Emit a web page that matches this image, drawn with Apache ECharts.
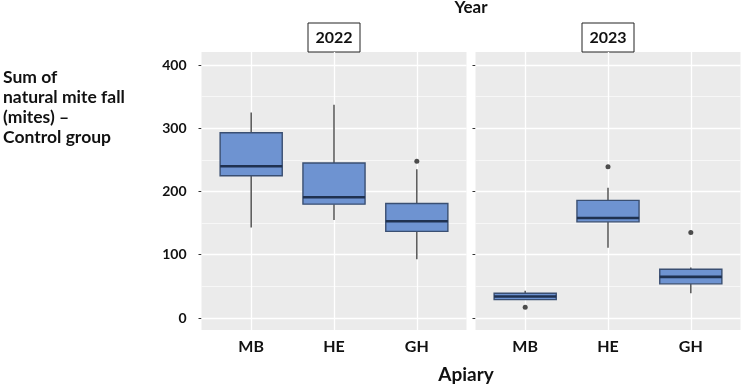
<!DOCTYPE html>
<html>
<head>
<meta charset="utf-8">
<script src="https://cdn.jsdelivr.net/npm/echarts@6/dist/echarts.min.js"></script>
<style>
  html, body { margin: 0; padding: 0; background: #fff; }
  #chart { width: 742px; height: 387px; }
</style>
</head>
<body>
<div id="chart"></div>
<script>
const categories = ['MB', 'HE', 'GH']
const years = ['2022', '2023']
// [min, Q1, median, Q3, max] for each apiary
const box2022 = [[143, 225, 240, 293, 325], [155, 180, 191, 245, 337], [93, 137, 153, 181, 235]]
const box2023 = [[29, 29, 34, 39, 43], [111, 152, 158, 186, 206], [39, 54, 65, 77, 80]]
const outliers2022 = [['GH', 248]]
const outliers2023 = [['MB', 17], ['HE', 239], ['GH', 135]]
const yTicks = [0, 100, 200, 300, 400]
const yMinor = [50, 150, 250, 350]

const boxes = [box2022, box2023]
const outliers = [outliers2022, outliers2023]

const font = 'Lato, "Open Sans", sans-serif'
const panelTop = 52
const panelH = 278
const panelW = 265
const panelLefts = [201.5, 475.5]
const unit = panelW / 3.2
const yMin = -19
const yMax = 420.6

function renderBox(params, api) {
  const x = api.value(0)
  const lo = api.coord([x, api.value(1)])
  const q1 = api.coord([x, api.value(2)])
  const med = api.coord([x, api.value(3)])
  const q3 = api.coord([x, api.value(4)])
  const hi = api.coord([x, api.value(5)])
  const half = api.size([1, 0])[0] * 0.375
  const cx = lo[0]
  return {
    type: 'group',
    children: [
      { type: 'line', shape: { x1: cx, y1: hi[1], x2: cx, y2: q3[1] }, style: { stroke: '#555', lineWidth: 1.5 } },
      { type: 'line', shape: { x1: cx, y1: q1[1], x2: cx, y2: lo[1] }, style: { stroke: '#555', lineWidth: 1.5 } },
      {
        type: 'rect',
        shape: { x: cx - half, y: q3[1], width: half * 2, height: q1[1] - q3[1] },
        style: { fill: '#6E93D1', stroke: '#3A4F72', lineWidth: 1.4 }
      },
      { type: 'line', shape: { x1: cx - half, y1: med[1], x2: cx + half, y2: med[1] }, style: { stroke: '#1F3150', lineWidth: 2.6 } }
    ]
  }
}

const grid = []
const xAxis = []
const yAxis = []
const series = []
const graphic = []

years.forEach((year, i) => {
  const left = panelLefts[i]
  // panel background
  grid.push({ left: left, top: panelTop, width: panelW, height: panelH, show: true, backgroundColor: '#EBEBEB', borderWidth: 0 })
  // data area (ggplot style discrete expansion)
  grid.push({ left: left + 0.6 * unit, top: panelTop, width: 2 * unit, height: panelH })

  xAxis.push({ gridIndex: 2 * i, type: 'value', min: 0, max: 1, show: false })
  yAxis.push({
    gridIndex: 2 * i,
    type: 'value',
    min: yMin,
    max: yMax,
    axisLine: { show: false },
    axisTick: { show: true, customValues: yTicks, length: 3, lineStyle: { color: '#333' } },
    axisLabel: {
      show: i === 0,
      customValues: yTicks,
      margin: 15,
      color: '#111',
      fontSize: 14,
      fontWeight: 'bold',
      fontFamily: font
    },
    splitLine: { show: false }
  })

  xAxis.push({
    gridIndex: 2 * i + 1,
    type: 'category',
    data: categories,
    boundaryGap: false,
    axisLine: { show: false },
    axisTick: { show: false },
    axisLabel: { interval: 0, margin: 9, color: '#111', fontSize: 16, fontWeight: 'bold', fontFamily: font },
    splitLine: { show: true, interval: 0, lineStyle: { color: '#fff', width: 1.3 } }
  })
  yAxis.push({ gridIndex: 2 * i + 1, type: 'value', min: yMin, max: yMax, show: false })

  series.push({
    type: 'scatter',
    xAxisIndex: 2 * i,
    yAxisIndex: 2 * i,
    data: [],
    silent: true,
    z: 1,
    markLine: {
      silent: true,
      z: 1,
      symbol: 'none',
      label: { show: false },
      animation: false,
      data: yTicks.map(v => ({ yAxis: v, lineStyle: { color: '#fff', width: 1.3, type: 'solid' } }))
        .concat(yMinor.map(v => ({ yAxis: v, lineStyle: { color: '#fff', width: 0.6, type: 'solid' } })))
    }
  })

  series.push({
    type: 'custom',
    xAxisIndex: 2 * i + 1,
    yAxisIndex: 2 * i + 1,
    z: 3,
    renderItem: renderBox,
    encode: { x: 0, y: [1, 2, 3, 4, 5] },
    data: boxes[i].map((b, k) => [k].concat(b))
  })

  series.push({
    type: 'scatter',
    xAxisIndex: 2 * i + 1,
    yAxisIndex: 2 * i + 1,
    z: 4,
    symbolSize: 5,
    itemStyle: { color: '#222' },
    data: outliers[i]
  })

  const cx = left + panelW / 2
  graphic.push({
    type: 'rect',
    shape: { x: cx - 26, y: 23, width: 52, height: 29 },
    style: { fill: '#fff', stroke: '#222', lineWidth: 1 }
  })
  graphic.push({
    type: 'text',
    x: cx,
    y: 38,
    style: { text: year, align: 'center', verticalAlign: 'middle', fill: '#111', font: 'bold 16px ' + font }
  })
})

graphic.push({
  type: 'text',
  x: panelLefts[0] + (panelLefts[1] + panelW - panelLefts[0]) / 2,
  y: 8,
  style: { text: 'Year', align: 'center', verticalAlign: 'middle', fill: '#111', font: 'bold 17px ' + font }
})
graphic.push({
  type: 'text',
  x: panelLefts[0] + (panelLefts[1] + panelW - panelLefts[0]) / 2 - 5,
  y: 375,
  style: { text: 'Apiary', align: 'center', verticalAlign: 'middle', fill: '#111', font: 'bold 19px ' + font }
})
graphic.push({
  type: 'text',
  x: 3,
  y: 67,
  style: {
    text: 'Sum of\nnatural mite fall\n(mites) –\nControl group',
    fill: '#111',
    font: 'bold 17.5px ' + font,
    lineHeight: 20
  }
})

const chart = echarts.init(document.getElementById('chart'))
chart.setOption({
  animation: false,
  grid: grid,
  xAxis: xAxis,
  yAxis: yAxis,
  series: series,
  graphic: graphic
})
</script>
</body>
</html>
